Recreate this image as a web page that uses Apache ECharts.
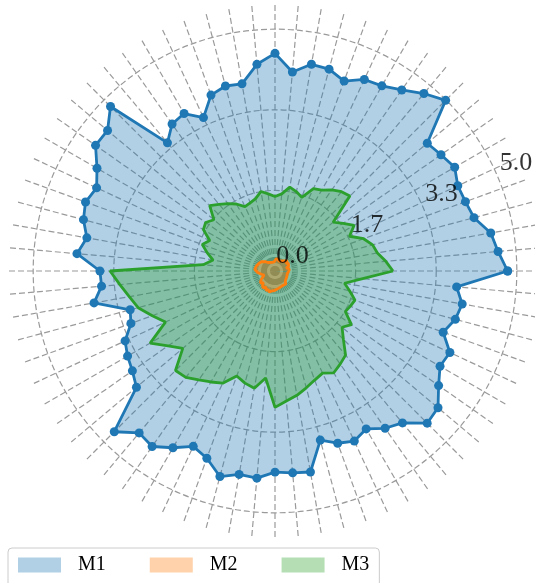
<!DOCTYPE html>
<html>
<head>
<meta charset="utf-8">
<script src="https://cdn.jsdelivr.net/npm/echarts@6/dist/echarts.min.js"></script>
<style>
  html, body { margin: 0; padding: 0; background: #fff; }
  #chart { width: 535px; height: 583px; }
</style>
</head>
<body>
<div id="chart"></div>
<script>
// 72 directions, every 5 degrees counter-clockwise from east
const angleStep = 5;
const angles = [];
for (let a = 0; a < 360; a += angleStep) angles.push(a);

const seriesNames = ['M1', 'M2', 'M3'];

const m1Values = [
  4.81, 4.63, 4.53, 4.26, 4.19, 4.17, 4.29, 4.19, 4.11, 4.99,
  4.79, 4.57, 4.42, 4.37, 4.18, 4.32, 4.34, 4.13, 4.50, 4.29,
  3.93, 3.96, 3.87, 3.50, 3.76, 3.71, 3.46, 4.81, 4.52, 4.53,
  4.25, 4.07, 4.17, 4.10, 3.95, 4.11, 3.62, 3.60, 3.80, 3.10,
  3.17, 3.42, 3.52, 3.60, 3.74, 4.70, 4.37, 4.43, 4.22, 4.00,
  4.12, 4.40, 4.27, 4.30, 4.16, 4.19, 4.22, 3.62, 3.79, 3.88,
  3.77, 3.97, 4.10, 4.45, 4.40, 4.13, 3.94, 3.99, 3.70, 3.86,
  3.93, 3.77
];

const m2Values = [
  0.30, 0.26, 0.29, 0.24, 0.30, 0.27, 0.32, 0.28, 0.33, 0.31,
  0.27, 0.30, 0.24, 0.27, 0.22, 0.26, 0.23, 0.25, 0.22, 0.19,
  0.21, 0.17, 0.19, 0.16, 0.20, 0.18, 0.23, 0.27, 0.30, 0.34,
  0.31, 0.37, 0.34, 0.40, 0.37, 0.42, 0.40, 0.36, 0.33, 0.28,
  0.24, 0.27, 0.32, 0.36, 0.39, 0.34, 0.40, 0.43, 0.38, 0.44,
  0.41, 0.45, 0.42, 0.44, 0.40, 0.43, 0.37, 0.40, 0.35, 0.38,
  0.34, 0.31, 0.35, 0.30, 0.33, 0.28, 0.31, 0.27, 0.30, 0.26,
  0.29, 0.27
];

const m3Values = [
  2.44, 2.30, 2.15, 2.09, 1.95, 1.70, 1.89, 1.72, 1.57, 2.19,
  2.14, 2.05, 1.93, 1.88, 1.62, 1.70, 1.76, 1.60, 1.54, 1.60,
  1.67, 1.55, 1.50, 1.47, 1.60, 1.70, 1.80, 1.91, 1.65, 1.75,
  1.71, 1.49, 1.60, 1.45, 1.30, 1.49, 3.41, 3.22, 3.06, 2.93,
  2.70, 2.50, 2.98, 2.70, 2.49, 2.91, 2.87, 2.75, 2.65, 2.56,
  2.31, 2.40, 2.46, 2.22, 2.82, 2.70, 2.61, 2.50, 2.40, 2.33,
  2.43, 2.35, 2.27, 2.00, 1.81, 1.93, 1.68, 1.72, 1.76, 1.60,
  1.46, 1.82
];

// radial ticks and their printed labels
const radialTicks = [0, 5 / 3, 10 / 3, 5];
const radialTickLabels = ['0.0', '1.7', '3.3', '5.0'];
const radialMax = 5.5;
const tickLabelAngle = 22.5;

const lineColors = ['#1f77b4', '#ff7f0e', '#2ca02c'];
const fillColors = ['rgba(31,119,180,0.35)', 'rgba(255,127,14,0.35)', 'rgba(44,160,44,0.35)'];

const center = [275, 271];
const outerRadius = 266;
const gridRadius = outerRadius * radialTicks[3] / radialMax;

const serif = 'Liberation Serif, Times New Roman, serif';
const gridStyle = { color: '#9a9a9a', width: 1.2, type: [6, 3] };

// [radius, angle] pairs, closed by repeating the first value at 360 degrees
function closedRing(values) {
  const pts = values.map((v, i) => [v, angles[i]]);
  pts.push([values[0], 360]);
  return pts;
}

const chart = echarts.init(document.getElementById('chart'), null, { renderer: 'canvas' });

const hiddenAxisParts = {
  axisLine: { show: false }, axisTick: { show: false }, axisLabel: { show: false }
};

const option = {
  animation: false,
  backgroundColor: '#fff',
  polar: [
    { center: center, radius: outerRadius },
    { center: center, radius: gridRadius }
  ],
  angleAxis: [
    Object.assign({
      polarIndex: 0, type: 'value', min: 0, max: 360, interval: angleStep,
      startAngle: 0, clockwise: false,
      splitLine: { show: true, lineStyle: gridStyle }
    }, hiddenAxisParts),
    Object.assign({
      polarIndex: 1, type: 'value', min: 0, max: 360,
      startAngle: 0, clockwise: false,
      splitLine: { show: false }
    }, hiddenAxisParts)
  ],
  radiusAxis: [
    Object.assign({
      polarIndex: 0, min: 0, max: radialMax,
      splitLine: { show: false }
    }, hiddenAxisParts),
    Object.assign({
      polarIndex: 1, min: 0, max: radialTicks[3], interval: radialTicks[1],
      splitLine: { show: true, lineStyle: gridStyle }
    }, hiddenAxisParts)
  ],
  legend: {
    data: seriesNames.map((n, i) => ({
      name: n,
      itemStyle: { color: fillColors[i], borderWidth: 0 }
    })),
    icon: 'rect',
    left: 8, top: 548,
    itemWidth: 43, itemHeight: 15, itemGap: 44,
    padding: [7, 10, 12, 10],
    borderColor: '#cccccc', borderWidth: 1, borderRadius: 4,
    textStyle: { fontFamily: serif, fontSize: 20, color: '#000', padding: [0, 0, 0, 12] }
  },
  series: [
    {
      name: 'M1', type: 'line', coordinateSystem: 'polar', polarIndex: 0,
      data: closedRing(m1Values),
      showAllSymbol: true, symbol: 'circle', symbolSize: 9,
      itemStyle: { color: lineColors[0] },
      lineStyle: { color: lineColors[0], width: 2.8 },
      areaStyle: { color: fillColors[0], opacity: 1 },
      z: 2
    },
    {
      name: 'M3', type: 'line', coordinateSystem: 'polar', polarIndex: 0,
      data: closedRing(m3Values),
      showSymbol: false, symbol: 'none',
      itemStyle: { color: lineColors[2] },
      lineStyle: { color: lineColors[2], width: 2.8 },
      areaStyle: { color: fillColors[2], opacity: 1 },
      z: 3
    },
    {
      name: 'M2', type: 'line', coordinateSystem: 'polar', polarIndex: 0,
      data: closedRing(m2Values),
      showSymbol: false, symbol: 'none',
      itemStyle: { color: lineColors[1] },
      lineStyle: { color: lineColors[1], width: 2.8 },
      areaStyle: { color: fillColors[1], opacity: 1 },
      z: 4
    },
    {
      name: 'radial-ticks', type: 'scatter', coordinateSystem: 'polar', polarIndex: 1,
      data: radialTicks.map(r => [r, tickLabelAngle]),
      symbolSize: 0, silent: true, z: 5,
      label: {
        show: true, position: 'inside', offset: [17.5, -15],
        formatter: p => radialTickLabels[p.dataIndex],
        fontFamily: serif, fontSize: 26, color: '#000'
      }
    }
  ]
};

chart.setOption(option);
</script>
</body>
</html>
